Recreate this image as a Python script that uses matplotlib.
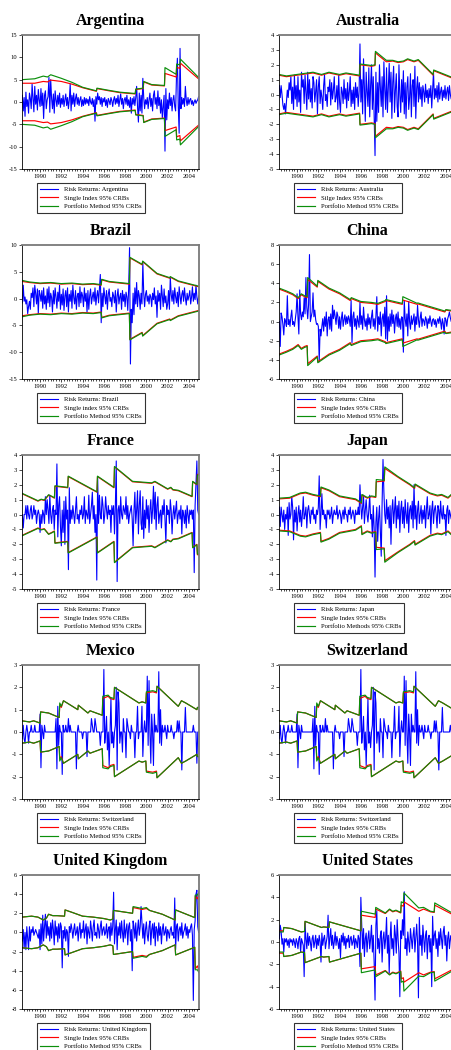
import numpy as np
import matplotlib
matplotlib.use('Agg')
import matplotlib.pyplot as plt
from matplotlib.ticker import MultipleLocator

plt.rcParams['font.family'] = ['Liberation Serif', 'DejaVu Serif']
plt.rcParams['axes.unicode_minus'] = False

T0 = 1988 + 4 / 12  # first monthly observation (May 1988)
XLIM = (1988.3, 2004.95)

# ---------------- Argentina ----------------
ARG_RET = [1.5, -2.0, 1.0, -3.2, 2.2, -1.0, 0.5, -2.5,
           2.0, 0.8, -1.5, 4.0, 1.0, -2.2, 3.5, -0.5, 1.5, -1.8, 2.8, 0.5,
           -1.0, 3.0, -0.8, 2.0, -3.7, 1.5, 2.5, -1.5, 0.5, 1.2, 5.5, -2.3,
           5.0, 0.8, -1.5, 1.8, -2.5, 2.5, 0.5, -1.0, 1.5, -0.5, 2.0, -1.2,
           0.8, -0.5, 1.5, -1.0, 0.5, 1.8, -0.8, 1.0, -1.5, 0.5, 4.0, -2.0,
           1.5, -0.5, 2.0, -1.0, 0.8, 1.8, -0.5, 1.0, -0.8, 0.5, 1.2, -1.0,
           0.5, -0.8, 1.0, -0.5, 0.8, -0.3, 0.6, -0.8, 1.2, 0.0, -0.5, 0.8,
           -1.0, 0.5, -4.3, 1.2, -0.5, 2.0, 0.5, 1.2, -0.5, 1.0, -1.0, 0.8,
           0.0, 1.0, -0.8, 0.5, -1.2, 0.8, 0.2, -0.6, 1.0, 0.3, -1.0, 0.5,
           1.2, -0.5, 0.8, -0.3, 1.5, -1.0, 0.5, 1.8, -0.5, 0.8, -1.5, 0.5,
           1.0, -0.5, 1.5, -0.8, 0.5, -1.2, 1.0, -2.5, 0.8, -0.5, 1.2, -0.8,
           1.0, 3.5, -1.0, -4.5, 2.0, -2.0, 1.5, -2.5, 5.3, 1.0, -1.5, 0.5,
           -0.5, 1.0, -1.5, 0.5, 2.0, -1.0, 0.8, -2.0, 1.5, 2.5, -0.5, 1.0,
           -1.5, 2.5, -0.8, 1.0, -2.5, 0.5, -3.5, -1.0, 1.5, -11.0, 3.0, -4.0,
           0.5, -1.5, 2.0, -0.8, 1.0, -2.0, 0.5, 1.5, -1.0, -2.0, 5.8, 9.8,
           -1.0, -7.0, 12.0, -1.5, 1.0, -0.5, 0.8, -1.0, 3.5, 0.5, -0.8, 1.0,
           -0.5, 0.5, 0.8, -0.5, 0.3, -0.8, 0.0, 0.5, -0.3, 0.2, 0.5, 1.2]
ARG_BT = [1988.3, 1989.5, 1990.3, 1990.7, 1991.0, 1992.0, 1993.0, 1994.0, 1995.3, 1995.35,
          1996.5, 1997.5, 1998.95, 1999.0, 1999.7, 1999.75, 2000.5, 2001.7, 2001.75,
          2002.8, 2002.85, 2003.15, 2003.2, 2004.95]
ARG_SI = [4.2, 4.2, 4.6, 4.5, 4.9, 4.6, 4.0, 3.2, 2.4, 3.0,
          2.5, 2.1, 1.8, 2.8, 3.0, 4.5, 3.8, 3.6, 6.4,
          5.6, 7.8, 7.5, 8.7, 5.1]
ARG_PM = [5.0, 5.2, 5.8, 5.6, 6.1, 5.3, 4.4, 3.3, 2.5, 3.1,
          2.6, 2.2, 1.9, 2.9, 3.1, 4.6, 3.9, 3.7, 7.7,
          6.2, 8.5, 8.3, 9.6, 5.4]

# ---------------- Australia ----------------
AUS_RET = [0.6, -0.2, 0.6, 0.0, -0.7, -1.0, -0.6, -1.3,
           -0.5, 0.3, -0.2, 0.8, 0.3, 1.2, -0.6, 0.5, -1.0, 1.3, -0.3, 0.6,
           -0.8, 1.2, -0.5, 0.3, -1.2, 1.5, 0.5, 1.0, -0.6, 1.3, 0.2, -1.0,
           1.5, -0.3, 1.0, -0.5, 0.4, -0.9, 1.2, 0.8, -0.5, 0.2, 1.0, -1.3,
           0.5, 1.2, -0.6, 0.3, -0.2, -1.0, 0.6, 1.3, -0.4, 0.0, -0.8, 0.5,
           0.2, 1.0, -0.7, 0.8, -0.3, 0.3, 1.2, -0.5, -0.2, 0.6, -1.0, 1.3,
           -0.5, -1.2, 0.5, 0.2, -0.6, 1.0, -0.3, 0.4, -0.9, 0.8, -0.4, 0.2,
           1.2, -0.8, 0.3, -0.6, 0.5, -1.0, 0.8, -0.2, 0.5, -0.8, 0.2, 3.4,
           -0.5, 1.0, -1.3, 2.4, 0.5, -1.8, 1.5, 0.2, -0.8, 1.8, -1.5, 0.6,
           2.0, -1.0, 1.2, -1.5, -4.1, 1.5, -1.8, 0.8, -1.2, 2.0, 0.5, -0.8,
           1.2, -1.5, 2.2, 0.3, -1.0, 1.8, -1.2, 0.5, 2.1, -0.5, 1.5, -1.6,
           0.8, 1.9, -1.2, 0.3, 1.4, -0.8, -1.5, 2.0, 0.0, -1.2, 1.0, -0.5,
           1.6, -1.3, 0.8, -1.6, 0.5, 1.2, -1.0, -0.2, 1.4, -1.5, 0.6, 1.0,
           -0.8, 1.9, -1.6, 0.4, 1.2, -0.5, 0.8, -0.3, 0.5, -0.8, 0.6, 0.2,
           -0.5, 0.7, -0.2, 0.3, -0.6, 0.4, -0.2, 0.6, -0.9, 0.3, 1.5, -0.3,
           0.4, -0.2, 0.6, -0.5, 0.8, -0.3, 0.2, 0.5, -0.4, 0.3, -0.2, 0.6,
           -0.3, 0.2, 0.5, -0.4, 0.6, 0.0, -0.3, 0.4, 0.2, -0.2, 0.6, 0.5]
AUS_BT = [1988.3, 1989.0, 1990.0, 1991.5, 1992.3, 1993.0, 1994.0, 1994.6, 1995.88, 1995.92,
          1996.5, 1997.0, 1997.33, 1997.37, 1998.4, 1999.0, 1999.5, 2000.0, 2000.4, 2001.0,
          2001.4, 2002.8, 2002.85, 2004.95]
AUS_SI = [1.3, 1.2, 1.3, 1.45, 1.3, 1.45, 1.3, 1.4, 1.25, 2.0,
          1.95, 1.9, 1.95, 2.8, 2.2, 2.25, 2.15, 2.2, 2.35, 2.2,
          2.3, 1.3, 1.6, 1.0]
AUS_PM = [1.35, 1.25, 1.35, 1.5, 1.35, 1.5, 1.35, 1.45, 1.3, 2.05,
          2.0, 1.95, 2.0, 2.9, 2.3, 2.3, 2.2, 2.25, 2.4, 2.25,
          2.35, 1.35, 1.65, 1.05]

# ---------------- Brazil ----------------
BRA_RET = [-0.8, 2.5, -0.5, 0.3, -1.0, -0.2, -2.8, -1.5,
           -0.5, -2.0, 1.0, 0.2, 2.0, -1.5, 2.5, 1.0, -1.0, 1.8, -2.8, 1.5,
           0.8, -0.5, 1.5, -1.8, 2.0, -1.0, 0.5, -2.0, 1.8, -0.8, 2.2, -1.5,
           1.0, 0.2, -2.5, 1.5, -1.0, 2.0, 0.3, -1.8, 1.2, -0.5, 2.5, -2.0,
           0.8, -1.2, 1.8, -2.2, 0.5, 1.5, -1.5, 2.0, -2.5, 0.8, -0.5, 1.5,
           -1.8, 2.5, 0.2, -1.0, 1.5, -2.0, 0.5, 1.0, -1.5, 2.2, -0.8, 1.2,
           0.5, -1.5, 2.0, -0.5, 1.0, -2.5, 1.5, -2.0, 0.5, 1.8, -1.0, 0.3,
           1.2, -0.5, 2.0, -1.2, 0.5, 1.5, -0.8, 2.0, 4.5, -4.5, 1.0, -1.5,
           2.0, 0.5, -1.0, 1.5, -2.0, 0.8, 1.8, -0.5, 0.2, -1.5, 1.2, 0.5,
           -0.8, 1.5, -2.5, 0.5, 1.8, -1.0, 0.3, 1.0, -2.0, 1.5, -0.5, 0.8,
           -1.5, 1.2, 0.3, -2.2, 1.8, 9.5, -12.2, -2.0, -4.5, 1.0, -3.0, 2.0,
           -1.0, 3.0, -1.5, 1.5, 0.5, -2.0, 1.0, -1.0, 6.8, 1.0, -1.5, 0.8,
           1.5, -0.5, 0.5, -1.0, 0.8, 0.3, -1.5, 1.0, -0.2, 2.0, -1.0, 0.5,
           -3.5, 1.5, -0.5, 1.0, -2.0, 2.5, 0.5, -1.5, 1.8, -0.8, 0.5, -2.0,
           -1.0, 1.5, -2.0, 4.0, 0.8, -0.5, 1.5, -1.0, 2.0, 0.3, -0.8, 1.2,
           -1.5, 2.2, 0.5, -1.0, 0.8, 1.5, -0.5, 2.0, 0.2, -1.2, 1.0, -0.3,
           0.5, 1.5, -1.0, 0.3, 2.2, -0.5, 1.0, -0.2, 2.5, 0.3, -1.0, 0.5]
BRA_BT = [1988.3, 1989.0, 1990.0, 1991.0, 1992.0, 1993.0, 1994.0, 1995.0, 1995.75, 1995.8,
          1996.5, 1998.4, 1998.45, 1999.6, 1999.65, 2001.0, 2002.2, 2002.25, 2003.0, 2004.95]
BRA_SI = [3.2, 3.0, 2.8, 2.9, 2.7, 2.8, 2.6, 2.7, 2.5, 3.5,
          3.1, 2.7, 7.6, 6.3, 6.9, 4.6, 3.8, 4.0, 3.2, 2.2]
BRA_PM = [3.4, 3.1, 2.9, 3.0, 2.8, 2.9, 2.7, 2.8, 2.6, 3.6,
          3.2, 2.8, 7.7, 6.4, 7.0, 4.7, 3.9, 4.1, 3.3, 2.3]

# ---------------- China ----------------
CHN_RET = [0.0, -2.6, 0.9, 0.5, -0.3, -1.4, 0.3, 0.0,
           -0.5, 2.7, -0.3, 0.2, -0.5, 0.5, 1.2, -0.3, 0.0, -0.5, 0.3, 1.0,
           2.9, 0.5, -1.3, 3.3, 0.8, 0.2, 1.0, 0.5, 2.5, 0.8, 4.6, 1.5,
           0.3, 1.8, 7.0, 0.0, 0.5, 1.0, 3.0, 0.5, 1.2, 0.2, -0.3, -0.2,
           -0.5, -4.2, -0.8, -1.5, -0.5, 0.3, -1.0, 0.5, -0.5, 1.0, -1.5, 0.2,
           0.5, -0.8, 0.8, -1.0, 1.7, 0.3, 1.2, 0.5, -0.3, 1.0, 0.6, -0.7,
           0.5, -0.8, 0.3, 1.0, -0.5, 0.2, 0.7, -0.3, 0.5, -0.2, 0.6, 0.2,
           -0.5, 2.2, -2.2, 0.5, 1.0, -0.5, 0.3, -0.8, 0.6, 0.0, -0.6, 2.0,
           -0.3, 0.6, -0.8, 1.5, 0.2, -0.5, 0.3, -0.9, 0.8, -0.3, 0.4, -0.7,
           0.5, 1.2, -0.5, 0.3, -0.8, 0.6, 2.6, -1.0, 0.5, -0.3, 1.0, -1.5,
           0.3, 0.8, -0.5, 1.5, -1.8, 2.7, -2.0, 0.5, -1.0, 0.8, -0.5, 1.2,
           -0.2, 0.7, -1.2, 0.3, 0.8, -0.5, 1.0, -0.6, 0.3, -0.8, 0.5, 0.4,
           -3.2, 2.2, 0.3, -0.5, 0.8, -1.5, 2.1, 0.0, -0.8, 0.6, -0.3, 0.2,
           0.8, -1.0, 0.5, -0.3, 1.7, 0.2, -0.6, 0.4, 1.0, -0.5, 0.3, 0.1,
           -0.4, 0.5, 0.2, -0.7, 0.3, -0.2, 0.6, 0.0, -0.5, 0.2, 0.3, -0.3,
           0.2, -0.6, 0.0, 0.3, -0.2, 0.5, 0.0, -0.8, 0.3, -0.2, -1.3, 0.4,
           0.2, -0.5, 0.3, 0.6, 1.0, 0.4, 0.0, 0.2, 0.0, 0.0, -0.3, -1.4]
CHN_BT = [1988.3, 1989.0, 1989.6, 1990.1, 1990.4, 1990.7, 1990.95, 1991.0, 1991.9, 1991.95,
          1993.0, 1994.0, 1995.0, 1995.1, 1996.0, 1997.0, 1997.6, 1998.3, 1998.35, 1999.9,
          1999.95, 2001.3, 2001.35, 2003.9, 2004.0, 2004.95]
CHN_SI = [3.4, 3.1, 2.8, 2.4, 2.8, 2.6, 2.5, 4.4, 3.6, 4.2,
          3.4, 2.9, 2.2, 2.4, 2.0, 1.9, 1.8, 2.1, 2.2, 1.8,
          2.25, 1.8, 1.85, 1.0, 1.2, 1.0]
CHN_PM = [3.5, 3.2, 2.9, 2.5, 2.9, 2.7, 2.6, 4.6, 3.7, 4.3,
          3.5, 3.0, 2.3, 2.5, 2.1, 2.0, 1.9, 2.2, 2.3, 1.9,
          2.6, 1.9, 1.95, 1.1, 1.25, 1.1]

# ---------------- France ----------------
FRA_RET = [0.0, -0.9, 0.0, 0.0, 0.6, -0.3, 0.6, 0.0,
           -0.3, 0.3, 0.6, -0.3, 0.0, 0.6, 0.0, 0.3, -0.6, 0.0, 0.3, 0.0,
           -1.2, 0.0, -0.6, 0.3, 0.0, -0.6, 1.2, 0.0, 1.0, 0.3, -0.6, 1.3,
           0.0, -0.6, 0.3, 0.6, -1.0, 0.3, 0.0, 3.4, -1.5, 0.6, 1.2, -0.8,
           -2.1, 0.3, -1.2, 0.9, -2.0, 1.2, -0.3, 0.3, -3.7, 1.8, -0.6, 0.3,
           -0.3, 0.6, 0.0, -0.6, 0.3, 1.2, -0.3, 0.0, -0.6, 0.3, 0.0, 0.6,
           -0.3, 0.0, 1.2, -0.6, 0.3, 0.0, -0.3, 1.3, -0.6, 0.0, 0.6, 1.5,
           -0.3, 0.6, -1.2, 0.0, -4.4, 2.5, -0.6, 1.3, 0.0, -0.3, 1.2, 0.6,
           -0.6, 0.0, 1.2, 0.3, -0.3, 0.6, 0.0, 0.3, -1.2, 0.6, 0.0, 0.6,
           -1.3, 0.6, 3.6, -4.5, 0.3, 0.6, -0.6, 1.2, 0.0, -0.3, 0.6, 0.3,
           0.0, 1.2, -0.3, 0.6, -0.6, 0.0, 0.3, 0.6, -0.3, -2.1, 0.3, 1.5,
           -0.6, 0.3, 1.6, -1.3, 0.6, 1.6, -0.6, -1.0, 1.2, -1.6, 0.3, -0.9,
           1.0, -0.3, 0.6, -1.2, 0.3, 1.0, -0.6, 0.3, 1.9, -0.3, 1.5, -1.0,
           0.6, 1.2, -0.6, 0.0, 0.3, -0.9, 0.6, 0.0, 1.0, -0.3, -1.9, 0.6,
           0.0, 0.3, -0.6, 1.0, 0.3, -1.3, 0.0, 0.6, -0.3, 0.3, 0.9, -0.6,
           0.0, 0.3, -0.3, 0.6, -1.3, 0.3, 0.0, -0.6, 0.3, -0.9, 0.6, 0.0,
           -0.6, 0.3, 0.0, 0.3, -0.3, 0.3, -3.9, 0.6, 2.1, 3.6, 0.3, 0.0]
FRA_BT = [1988.3, 1989.8, 1990.1, 1990.4, 1990.8, 1991.1, 1991.35, 1991.4, 1992.0, 1992.6,
          1992.65, 1995.35, 1995.4, 1996.95, 1997.0, 1998.7, 2000.5, 2000.8, 2002.0, 2002.3,
          2002.5, 2003.0, 2004.3, 2004.35, 2004.75, 2004.8, 2004.95]
FRA_SI = [1.4, 0.9, 1.0, 0.95, 1.3, 1.2, 1.1, 1.9, 1.85, 1.8,
          2.55, 1.5, 2.55, 1.8, 3.2, 2.2, 2.1, 2.2, 1.7, 1.8,
          1.65, 1.6, 1.2, 2.2, 2.0, 2.7, 2.7]
FRA_PM = [1.43, 0.93, 1.03, 0.98, 1.33, 1.23, 1.13, 1.93, 1.88, 1.83,
          2.58, 1.53, 2.58, 1.83, 3.23, 2.23, 2.13, 2.23, 1.73, 1.83,
          1.68, 1.63, 1.23, 2.23, 2.03, 2.65, 2.65]

# ---------------- Japan ----------------
JPN_RET = [0.5, -0.8, 0.5, 0.0, -0.5, 0.3, -1.0, 0.0,
           -0.3, 0.5, -1.4, 0.8, -0.3, 0.0, 1.2, 0.5, -1.7, 0.3, -0.5, 0.5,
           -1.1, 0.0, 0.6, -0.5, 0.3, -0.8, 0.0, 1.2, -0.3, 0.0, 0.5, -0.9,
           0.3, 0.6, 0.0, -0.6, 0.3, 0.0, 0.5, -0.3, 0.0, -0.6, 0.3, 0.0,
           0.5, 2.6, -1.0, 0.0, 1.4, 0.0, 0.3, -0.3, 0.0, -0.9, 0.3, 0.0,
           0.3, -0.3, 0.0, 0.5, -0.6, 0.0, 0.3, 0.0, 0.0, 0.6, -0.3, 0.0,
           0.3, 0.0, -0.6, 0.0, 0.3, -0.3, 0.5, 0.0, 0.0, -0.5, 0.3, 0.0,
           0.5, -0.3, 0.0, 0.3, 0.0, -0.6, 0.3, 0.0, 0.0, 0.5, 0.0, 2.0,
           0.6, -0.3, 0.5, 1.3, -0.6, 0.3, 1.0, 0.0, -0.5, 0.3, 1.3, -0.3,
           0.0, -1.5, 0.6, -0.9, -4.2, -0.5, 0.5, -1.8, -0.3, 0.6, -1.0, -2.8,
           0.8, 3.7, 1.5, 0.0, -0.6, 1.0, -0.3, 0.5, -0.9, 0.6, -2.0, 0.3,
           1.0, -0.6, 0.3, 1.2, -0.9, 0.6, -0.3, 0.9, -1.2, 0.3, 0.9, -0.6,
           0.5, -0.9, 1.0, 0.0, -0.6, 0.8, -1.2, 0.3, 0.6, -0.3, 0.9, -0.9,
           2.0, -0.3, 0.6, -1.0, 0.3, 0.9, -0.6, 0.0, 0.6, -0.6, 0.3, -0.3,
           0.6, -0.9, 0.3, 1.2, -0.3, 0.0, 0.6, -1.3, 0.3, 0.9, -0.6, 0.3,
           0.6, 0.0, -0.9, 0.6, 0.3, -0.6, 0.9, 0.0, -0.3, 0.6, -0.3, 0.0,
           -1.4, 0.3, 0.6, -0.6, 0.3, 0.0, -0.3, 0.5, 0.0, -0.9, 0.3, 0.5]
JPN_BT = [1988.3, 1989.3, 1990.3, 1990.8, 1991.5, 1992.2, 1992.25, 1993.0, 1994.0, 1995.5,
          1996.05, 1996.1, 1996.6, 1997.0, 1997.4, 1997.45, 1998.2, 1998.25, 1999.5, 2000.6,
          2001.05, 2001.1, 2002.5, 2003.2, 2003.6, 2004.2, 2004.5, 2004.95]
JPN_SI = [1.05, 1.1, 1.4, 1.45, 1.3, 1.2, 1.8, 1.6, 1.2, 1.0,
          0.75, 1.3, 1.1, 1.2, 1.15, 2.2, 2.25, 3.1, 2.5, 2.0,
          1.75, 2.0, 1.4, 1.25, 1.3, 1.1, 1.3, 1.25]
JPN_PM = [1.1, 1.15, 1.45, 1.5, 1.35, 1.25, 1.85, 1.65, 1.25, 1.05,
          0.8, 1.35, 1.15, 1.25, 1.2, 2.35, 2.3, 3.2, 2.55, 2.05,
          1.8, 2.05, 1.45, 1.3, 1.35, 1.15, 1.35, 1.3]

# ---------------- Mexico / Switzerland (identical in the source) ----------------
SWI_RET = [-0.3, 0.3, -0.3, -0.5, 0.0, 0.3, 0.0, -0.5,
           0.0, 0.0, 0.3, 0.0, 0.0, 0.0, 0.3, 0.0, 0.0, 0.0, 0.0, 0.0,
           0.8, -1.6, 0.3, 0.0, -0.3, 0.3, 0.0, 0.0, 0.0, 0.0, 0.0, 0.0,
           0.0, 0.0, 0.0, 0.0, 0.0, 0.0, 0.6, -1.65, 1.15, -0.6, 0.3, 0.0,
           0.0, -1.9, 0.3, 0.0, 0.0, 0.3, 0.0, 0.0, 0.6, 0.0, 0.3, 0.0,
           0.0, 0.0, 0.0, 0.0, 0.0, -1.65, 0.0, 0.3, 0.0, 0.0, 0.0, 0.0,
           -0.3, 0.0, 0.0, 0.0, 0.0, -1.1, 0.0, 0.0, 0.0, 0.0, 0.6, 0.3,
           0.0, 0.0, 0.6, 0.3, 0.0, 0.0, 0.0, 0.0, -0.6, 0.0, 0.0, 0.0,
           2.8, -0.5, 0.0, 0.7, -0.8, 0.0, -1.5, 0.0, 1.5, -0.5, 0.0, -0.7,
           0.0, 0.3, 2.0, -1.7, 1.8, 1.3, -0.5, 0.0, 0.0, -0.9, 0.6, 0.0,
           0.0, -1.15, 0.6, 0.3, 0.0, 0.0, -0.3, 0.3, 0.0, 0.0, 0.0, -1.15,
           0.0, 0.0, 1.15, -0.3, 0.0, 0.0, 0.0, 1.15, -1.1, 0.0, 0.5, 0.0,
           0.0, 2.5, -0.6, 2.3, 0.0, -1.4, 0.8, 0.0, -1.5, 0.8, 0.0, 0.3,
           0.0, 0.0, 2.7, -0.5, 1.0, -0.6, 0.3, 0.0, 0.0, 0.3, 0.0, -0.3,
           0.3, 0.0, 0.0, 0.0, 0.3, 0.0, 0.0, -0.3, 0.0, 0.0, 0.0, 0.5,
           0.0, 0.5, 0.0, 0.0, -1.7, 0.0, 0.0, 0.0, 1.1, 0.0, 0.0, 0.0,
           0.0, 0.0, 0.0, 0.0, 0.0, 0.3, 0.0, 0.0, 0.0, -1.4, 0.0, 0.0]
SWI_BT = [1988.3, 1989.0, 1989.4, 1990.0, 1990.05, 1990.8, 1991.8, 1991.85, 1992.0, 1992.2,
          1993.55, 1993.6, 1994.5, 1994.7, 1995.85, 1995.9, 1996.4, 1996.6, 1996.95, 1997.0,
          1999.3, 1999.6, 1999.95, 2000.0, 2000.6, 2000.95, 2001.0, 2003.0, 2003.3, 2003.7,
          2004.75, 2004.8, 2004.95]
SWI_SI = [0.5, 0.45, 0.5, 0.4, 0.9, 0.85, 0.65, 1.2, 1.1, 1.4,
          1.0, 1.2, 0.85, 0.95, 0.75, 1.5, 1.6, 1.5, 1.45, 2.0,
          1.3, 1.35, 1.3, 1.75, 1.8, 1.75, 2.05, 1.15, 1.4, 1.3,
          1.0, 1.1, 1.1]
SWI_PM = [0.5, 0.45, 0.5, 0.4, 0.9, 0.85, 0.65, 1.3, 1.15, 1.4,
          1.0, 1.2, 0.85, 0.95, 0.75, 1.6, 1.65, 1.55, 1.5, 2.0,
          1.3, 1.35, 1.3, 1.8, 1.85, 1.8, 2.05, 1.15, 1.4, 1.3,
          1.0, 1.1, 1.1]

# ---------------- United Kingdom ----------------
GBR_RET = [-0.9, 0.3, -1.7, 0.0, -1.8, 0.6, -0.6, -1.8,
           0.6, -0.9, 0.3, 0.0, 0.6, -0.3, 0.0, 0.3, 0.0, -0.3, -0.6, 0.3,
           -1.8, 0.9, -1.2, 1.8, -0.9, 0.6, 1.9, -0.6, 1.2, -0.3, 0.6, -0.9,
           1.0, -0.6, 1.3, 0.3, -1.3, 1.2, -0.3, 0.6, -1.0, 0.9, -0.6, 1.0,
           0.6, -3.7, 0.2, -0.6, 0.6, -0.9, 0.3, 0.0, -2.5, 0.6, 0.0, 0.9,
           0.3, -0.6, 0.3, 0.9, -0.3, 0.0, 0.6, -0.9, 0.3, 1.0, -0.6, 0.3,
           0.0, 1.2, -0.6, 0.3, 0.9, -1.2, 0.6, 0.0, -0.6, 1.2, 0.3, -0.9,
           0.6, 1.3, -0.3, 0.0, -0.6, 0.9, 0.3, -0.6, 0.6, 1.2, -0.3, 0.3,
           0.6, -0.3, 0.0, 0.9, -0.6, 0.3, 0.6, -0.9, 1.0, -0.3, 0.6, 4.2,
           -1.2, 0.3, 1.3, -1.8, 0.6, -0.3, 1.0, -0.6, 1.2, 0.0, -1.0, 1.3,
           -0.6, 0.3, 0.9, -1.3, 0.6, 1.0, -0.9, 0.3, -4.0, 1.2, 0.6, -0.6,
           1.0, -0.9, 0.3, 1.3, -0.3, 0.6, 2.7, 1.0, -0.6, 0.9, -1.2, 0.3,
           1.1, -0.3, -0.9, 0.6, 1.2, -1.3, 0.3, 0.9, -0.6, 1.0, -1.4, 0.6,
           0.3, -0.9, 1.0, -0.3, 0.6, -1.2, 0.3, 0.9, -0.3, 0.0, 0.6, -0.9,
           0.3, 0.0, -0.6, 0.3, 0.6, -0.3, 0.0, -0.6, 3.6, -1.8, 0.6, 0.9,
           -0.9, 0.3, 0.6, -0.3, 1.0, -0.6, 0.0, 0.3, 0.9, -0.3, 0.6, -0.6,
           0.3, 0.0, 0.6, 0.9, -0.3, -7.1, 0.3, 1.2, 4.0, 4.4, 0.6, 0.0]
GBR_BT = [1988.3, 1989.2, 1989.8, 1990.3, 1990.6, 1990.8, 1991.2, 1991.6, 1992.3, 1992.35,
          1993.0, 1994.0, 1995.0, 1996.0, 1996.6, 1996.85, 1996.9, 1997.5, 1998.7, 1998.75,
          1999.6, 2000.0, 2000.3, 2001.5, 2002.7, 2002.75, 2004.55, 2004.6, 2004.8, 2004.95]
GBR_SI = [1.6, 1.7, 1.6, 1.3, 1.5, 1.9, 1.75, 1.75, 1.7, 2.35,
          2.1, 1.7, 1.6, 1.45, 1.3, 1.4, 2.3, 2.2, 2.0, 2.6,
          2.4, 2.5, 2.3, 1.9, 1.3, 2.35, 1.55, 3.8, 3.5, 4.0]
GBR_PM = [1.6, 1.7, 1.6, 1.3, 1.5, 1.9, 1.75, 1.75, 1.7, 2.35,
          2.1, 1.7, 1.6, 1.45, 1.3, 1.4, 2.3, 2.2, 2.0, 2.7,
          2.5, 2.6, 2.3, 1.9, 1.3, 2.35, 1.55, 3.9, 3.9, 4.2]

# ---------------- United States ----------------
USA_RET = [0.3, 1.5, 1.0, -0.2, 0.3, -0.9, 0.3, 0.0,
           0.3, -0.3, 0.2, -0.5, 0.3, 0.0, 0.2, -0.3, 0.3, 0.0, -0.5, 0.3,
           0.0, -0.6, 0.3, 0.5, -0.9, 0.3, 0.0, -0.3, -3.1, 1.7, 0.3, -0.6,
           0.8, -0.3, 0.5, 0.0, -0.8, 0.3, 0.6, -0.5, 0.0, 0.6, -0.6, 0.3,
           -0.3, 0.6, 0.0, -1.8, 0.8, -0.3, 0.3, 0.6, -0.6, 0.0, 0.5, 2.4,
           -0.6, 0.3, 1.2, -0.3, 0.6, -0.6, 0.0, 0.9, -0.3, 0.5, 0.0, -0.6,
           0.3, -1.4, 0.6, 0.0, 0.8, -0.3, 0.5, -0.6, 0.3, 0.0, 0.6, -0.5,
           0.3, 0.5, -0.3, 0.0, 0.6, -0.6, 0.3, 0.0, -0.5, 0.6, 0.3, -2.2,
           4.0, 1.5, -0.6, 1.2, -1.3, 0.3, 0.8, -0.9, 0.3, 1.0, -0.6, 0.3,
           1.5, -0.9, 0.6, -1.8, -5.2, 1.5, 2.8, -0.6, 0.3, -1.0, 0.6, 1.0,
           -1.8, 0.3, 0.9, -0.6, 0.3, 2.2, -1.0, 0.6, -2.8, 0.3, 1.8, -0.6,
           0.3, -1.2, 1.5, 0.6, -1.0, 2.0, 0.3, -1.0, -4.9, 1.0, 0.3, 2.0,
           0.6, 4.5, -0.6, 0.3, -1.2, 0.9, 0.0, -0.9, 1.2, 0.3, -0.6, 0.6,
           1.3, -0.9, 0.3, 1.6, 0.0, -5.0, 2.2, -0.3, 0.6, -1.2, 1.5, 0.3,
           -0.9, 0.6, 1.0, -1.5, 0.3, 0.6, -0.9, 0.3, -4.0, 2.3, -0.3, 0.6,
           1.0, -0.6, 0.3, -1.3, 0.9, -0.3, 1.2, 0.3, -0.6, 0.9, 1.4, -0.3,
           0.6, -1.7, 0.3, 0.9, -0.6, 0.3, 0.6, -1.0, 0.3, 0.6, -0.9, -1.7]
USA_BT = [1988.3, 1988.7, 1988.75, 1989.5, 1990.4, 1990.7, 1990.75, 1992.3, 1992.5, 1993.0,
          1993.05, 1996.0, 1996.05, 1997.35, 1997.4, 1998.3, 1998.7, 1999.0, 1999.3, 1999.75,
          1999.8, 2000.0, 2000.05, 2001.45, 2001.9, 2002.55, 2002.9, 2002.95, 2004.95]
USA_SI = [1.0, 1.0, 1.3, 1.2, 0.9, 0.95, 1.85, 1.3, 1.35, 1.3,
          1.8, 1.0, 2.4, 2.2, 2.95, 2.55, 2.9, 2.7, 2.8, 2.6,
          3.3, 3.2, 3.6, 2.75, 2.95, 2.7, 2.65, 3.3, 2.3]
USA_PM = [0.9, 0.9, 1.3, 1.2, 0.9, 0.95, 1.85, 1.3, 1.35, 1.3,
          1.8, 1.0, 2.75, 2.5, 3.1, 2.6, 2.95, 2.75, 2.85, 2.65,
          3.6, 3.5, 4.4, 3.05, 3.1, 2.75, 2.7, 3.5, 2.4]

TITLES = ['Argentina', 'Australia', 'Brazil', 'China', 'France', 'Japan',
          'Mexico', 'Switzerland', 'United Kingdom', 'United States']
RET_LABELS = ['Risk Returns: Argentina', 'Risk Returns: Australia', 'Risk Returns: Brazil',
              'Risk Returns: China', 'Risk Returns: France', 'Risk Returns: Japan',
              'Risk Returns: Switzerland', 'Risk Returns: Switzerland',
              'Risk Returns: United Kingdom', 'Risk Returns: United States']
SI_LABELS = ['Single Index 95% CRBs', 'Silge Index 95% CRBs', 'Single index 95% CRBs',
             'Single Index 95% CRBs', 'Single Index 95% CRBs', 'Single Index 95% CRBs',
             'Single Index 95% CRBs', 'Single Index 95% CRBs', 'Single Index 95% CRBs',
             'Single Index 95% CRBs']
PM_LABELS = ['Portfolio Method 95% CRBs'] * 5 + ['Portfolio Methods 95% CRBs'] + \
            ['Portfolio Method 95% CRBs'] * 4
YLIMS = [(-15, 15), (-5, 4), (-15, 10), (-6, 8), (-5, 4), (-5, 4), (-3, 3), (-3, 3), (-8, 6), (-6, 6)]
YSTEPS = [5, 1, 5, 2, 1, 1, 1, 1, 2, 2]

RETS = [ARG_RET, AUS_RET, BRA_RET, CHN_RET, FRA_RET, JPN_RET, SWI_RET, SWI_RET, GBR_RET, USA_RET]
BTS = [ARG_BT, AUS_BT, BRA_BT, CHN_BT, FRA_BT, JPN_BT, SWI_BT, SWI_BT, GBR_BT, USA_BT]
SIS = [ARG_SI, AUS_SI, BRA_SI, CHN_SI, FRA_SI, JPN_SI, SWI_SI, SWI_SI, GBR_SI, USA_SI]
PMS = [ARG_PM, AUS_PM, BRA_PM, CHN_PM, FRA_PM, JPN_PM, SWI_PM, SWI_PM, GBR_PM, USA_PM]

BLUE, RED, GREEN = '#0000ff', '#ff0000', '#0b8f0b'

W, H = 452, 1050
fig = plt.figure(figsize=(W / 100, H / 100), dpi=100)
fig.patch.set_facecolor('white')

for k in range(10):
    row, col = divmod(k, 2)
    left = 22 if col == 0 else 279
    top = 35 + 210 * row
    ax = fig.add_axes([left / W, 1 - (top + 134) / H, 177 / W, 134 / H])

    r = np.array(RETS[k], dtype=float)
    t = T0 + np.arange(len(r)) / 12
    bt = np.array(BTS[k], dtype=float)
    si = np.array(SIS[k], dtype=float)
    pm = np.array(PMS[k], dtype=float)

    h1, = ax.plot(t, r, color=BLUE, lw=0.8)
    h2, = ax.plot(bt, si, color=RED, lw=0.85)
    ax.plot(bt, -si, color=RED, lw=0.85)
    h3, = ax.plot(bt, pm, color=GREEN, lw=0.85)
    ax.plot(bt, -pm, color=GREEN, lw=0.85)

    ax.set_xlim(*XLIM)
    ax.set_ylim(*YLIMS[k])
    ax.xaxis.set_major_locator(MultipleLocator(2))
    ax.xaxis.set_minor_locator(MultipleLocator(0.25))
    ax.yaxis.set_major_locator(MultipleLocator(YSTEPS[k]))
    ax.xaxis.set_major_formatter(plt.FuncFormatter(lambda v, p: '%d' % round(v)))
    ax.yaxis.set_major_formatter(plt.FuncFormatter(lambda v, p: '%d' % round(v)))
    ax.tick_params(axis='both', which='major', direction='out', labelsize=4.7,
                   width=0.5, length=2.5, pad=1, colors='black')
    ax.tick_params(axis='x', which='minor', direction='out', width=0.5, length=1.5)
    for s in ('left', 'bottom'):
        ax.spines[s].set_color('black')
        ax.spines[s].set_linewidth(0.6)
    for s in ('top', 'right'):
        ax.spines[s].set_color('#7a7a7a')
        ax.spines[s].set_linewidth(1.3)

    ax.set_title(TITLES[k], fontsize=11.5, fontweight='bold', pad=7)

    leg = ax.legend([h1, h2, h3], [RET_LABELS[k], SI_LABELS[k], PM_LABELS[k]],
                    loc='upper left', bbox_to_anchor=(15 / 177, -14 / 134),
                    borderaxespad=0, fontsize=4.8, frameon=True, fancybox=False,
                    edgecolor='black', handlelength=2.7, handletextpad=0.8,
                    labelspacing=0.45, borderpad=0.5)
    leg.get_frame().set_linewidth(0.8)

fig.savefig('out.png', dpi=100)
